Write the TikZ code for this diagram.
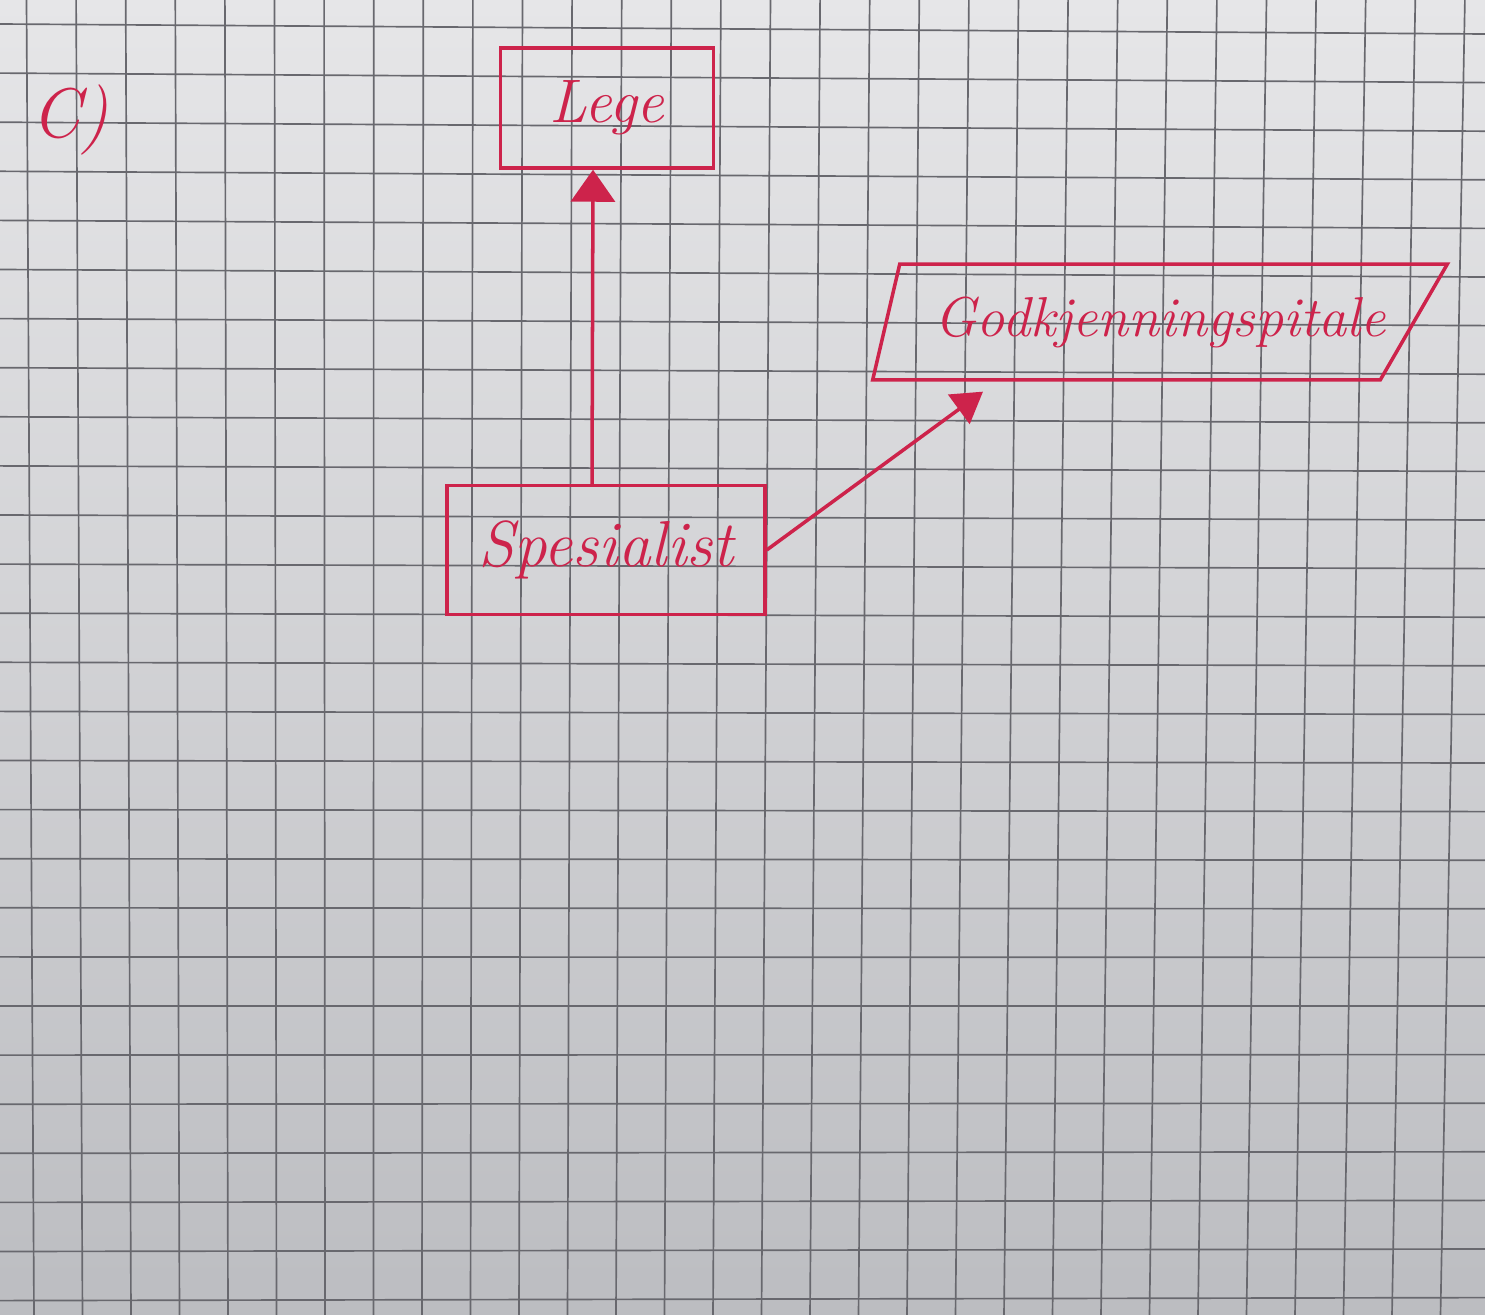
\documentclass[tikz,border=0pt]{standalone}
\usepackage{tikz}
\usetikzlibrary{arrows.meta, positioning, shapes.geometric, calc}

\definecolor{inkred}{RGB}{205,35,75}
\definecolor{paperhi}{RGB}{230,230,232}
\definecolor{paperlo}{RGB}{188,189,193}
\definecolor{gridgray}{RGB}{104,104,110}

\begin{document}
\begin{tikzpicture}[
    x=0.02cm, y=-0.02cm,
    >={Triangle[length=0.64cm, width=0.88cm]},
    gridline/.style={draw=gridgray, line width=0.95pt},
    ink/.style={draw=inkred, line width=2pt},
    classbox/.style={ink, rectangle, inner sep=0pt, text=inkred,
                     font=\fontsize{35}{38}\selectfont\itshape},
    ifacebox/.style={rectangle, inner sep=0pt, text=inkred,
                     font=\fontsize{32}{35}\selectfont\itshape},
    genarrow/.style={ink, ->}
  ]
  % Paper with squares
  \shade[top color=paperhi, bottom color=paperlo] (0,0) rectangle (1485,1315);
  \useasboundingbox (0,0) rectangle (1485,1315);
  \foreach \k in {0,...,29}
    \draw[gridline] ({26.5+49.6*\k},0) -- ({34+48.5*\k},1315);
  \foreach \j in {0,...,26}
    \draw[gridline] (0,{24+49.1*\j}) -- (1485,{34+48.6*\j});

  % Task label
  \node[text=inkred, font=\fontsize{40}{44}\selectfont\itshape] (part) at (70,120) {C)};

  % Classes
  \node[classbox, minimum width=4.26cm, minimum height=2.4cm] (lege) at (607,108) {Lege};
  \node[classbox, minimum width=6.36cm, minimum height=2.58cm,
        font=\fontsize{37}{40}\selectfont\itshape] (spes) at (606,550) {Spesialist};
  \node[ifacebox, minimum width=11.48cm, minimum height=2.3cm] (godk) at (1160,322) {Godkjenningspitale};
  % slanted outline of the interface box
  \draw[ink] ([xshift=0.54cm]godk.north west) -- (godk.north east)
    -- ([xshift=-1.34cm]godk.south east) -- (godk.south west) -- cycle;

  % Generalisation arrows
  \draw[genarrow] ([xshift=-0.28cm]spes.north) -- ([xshift=-0.28cm]lege.south);
  \draw[genarrow, >={Triangle[length=0.6cm, width=0.72cm]}, shorten >=0.4cm]
    (spes.east) -- ($(godk.south west)!0.22!(godk.south east)$);
\end{tikzpicture}
\end{document}
